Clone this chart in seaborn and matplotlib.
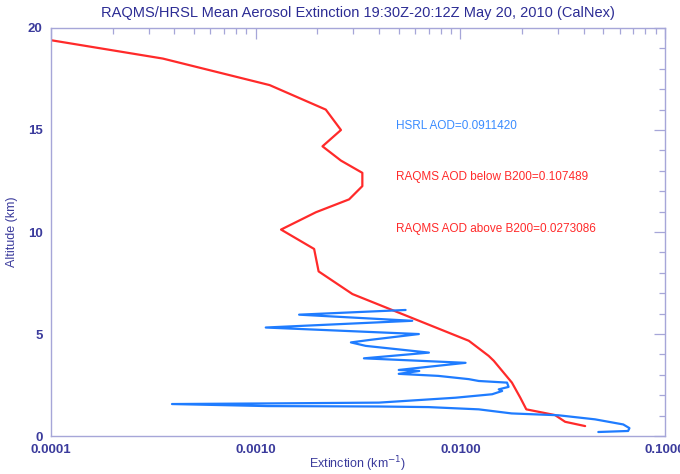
import matplotlib
matplotlib.use("Agg")
import matplotlib.pyplot as plt
import matplotlib.ticker as mticker
import numpy as np
import pandas as pd
import seaborn as sns

# RAQMS model profile: extinction (km^-1) vs altitude (km)
raqms_ext = [1.0e-4, 3.52e-4, 1.17e-3, 2.20e-3, 2.61e-3, 2.12e-3, 2.61e-3, 3.32e-3,
             3.32e-3, 2.86e-3, 1.97e-3, 1.33e-3, 1.93e-3, 2.03e-3, 2.97e-3, 0.0110,
             0.01375, 0.01456, 0.01786, 0.01963, 0.0210, 0.0290, 0.0325, 0.0407]
raqms_alt = [19.4, 18.5, 17.2, 16.0, 15.0, 14.2, 13.5, 12.9,
             12.25, 11.6, 10.97, 10.12, 9.17, 8.07, 6.96, 4.67,
             3.93, 3.69, 2.62, 1.88, 1.31, 1.03, 0.70, 0.49]

# HSRL lidar profile
hsrl_ext = [0.0472, 0.066, 0.067, 0.0625, 0.0455, 0.0301, 0.0178, 0.0123, 0.0070,
            0.0040, 0.00114, 0.00039, 0.00114, 0.0040, 0.00947, 0.0143, 0.0160,
            0.0154, 0.0172, 0.0169, 0.0123, 0.0110, 0.0078, 0.0050, 0.0063, 0.0050,
            0.0106, 0.00338, 0.00702, 0.00345, 0.00292, 0.00366, 0.00627, 0.00112,
            0.00582, 0.00163, 0.0054]
hsrl_alt = [0.20, 0.25, 0.39, 0.57, 0.82, 1.02, 1.11, 1.31, 1.42,
            1.45, 1.47, 1.57, 1.60, 1.64, 1.88, 2.05, 2.21,
            2.29, 2.41, 2.62, 2.70, 2.79, 2.95, 3.05, 3.19, 3.24,
            3.59, 3.81, 4.09, 4.42, 4.59, 4.72, 5.00, 5.32,
            5.65, 5.95, 6.18]

annotations = ["HSRL AOD=0.0911420",
               "RAQMS AOD below B200=0.107489",
               "RAQMS AOD above B200=0.0273086"]

x_ticks = [1e-4, 1e-3, 1e-2, 1e-1]
x_ticklabels = ["0.0001", "0.0010", "0.0100", "0.1000"]
y_ticks = [0, 5, 10, 15, 20]

RED = "#ff2a2a"
BLUE = "#1f7cff"
TEXT = "#3b3b9c"
AXIS = "#a6a6d8"

sns.set_theme(style="white")
plt.rcParams["font.family"] = ["Liberation Sans", "DejaVu Sans"]

fig = plt.figure(figsize=(6.8, 4.74), dpi=100)
ax = fig.add_axes([0.075, 0.080, 0.903, 0.861])

raqms = pd.DataFrame({"ext": raqms_ext, "alt": raqms_alt})
hsrl = pd.DataFrame({"ext": hsrl_ext, "alt": hsrl_alt})

sns.lineplot(data=raqms, x="ext", y="alt", sort=False, estimator=None,
             color=RED, linewidth=1.6, ax=ax)
sns.lineplot(data=hsrl, x="ext", y="alt", sort=False, estimator=None,
             color=BLUE, linewidth=1.6, ax=ax)

ax.set_xscale("log")
ax.set_xlim(1e-4, 1e-1)
ax.set_ylim(0, 20)
ax.set_xticks(x_ticks)
ax.set_xticklabels(x_ticklabels)
ax.xaxis.set_minor_locator(mticker.LogLocator(base=10, subs=np.arange(2, 10)))
ax.xaxis.set_minor_formatter(mticker.NullFormatter())
ax.set_yticks(y_ticks)
ax.yaxis.set_minor_locator(mticker.MultipleLocator(1))

ax.tick_params(which="both", direction="in", top=True, right=True,
               color=AXIS, labelcolor=TEXT, labelsize=9.5, width=0.9)
ax.tick_params(which="major", length=8, pad=6)
ax.tick_params(which="minor", length=4.5)
for lab in ax.get_xticklabels() + ax.get_yticklabels():
    lab.set_fontweight("bold")

for sp in ax.spines.values():
    sp.set_color(AXIS)
    sp.set_linewidth(1.0)

ax.set_xlabel("Extinction (km$^{-1}$)", color=TEXT, fontsize=9)
ax.set_ylabel("Altitude (km)", color=TEXT, fontsize=9)
ax.xaxis.set_label_coords(0.5, -0.045)
ax.yaxis.set_label_coords(-0.054, 0.5)
ax.set_title("RAQMS/HRSL Mean Aerosol Extinction 19:30Z-20:12Z May 20, 2010 (CalNex)",
             color="#2c2c94", fontsize=10.5, pad=8)

ax.text(4.84e-3, 15.2, annotations[0], color="#3a8cff", fontsize=8.5, va="center")
ax.text(4.84e-3, 12.7, annotations[1], color=RED, fontsize=8.5, va="center")
ax.text(4.84e-3, 10.15, annotations[2], color=RED, fontsize=8.5, va="center")

fig.savefig("out.png", dpi=100)
